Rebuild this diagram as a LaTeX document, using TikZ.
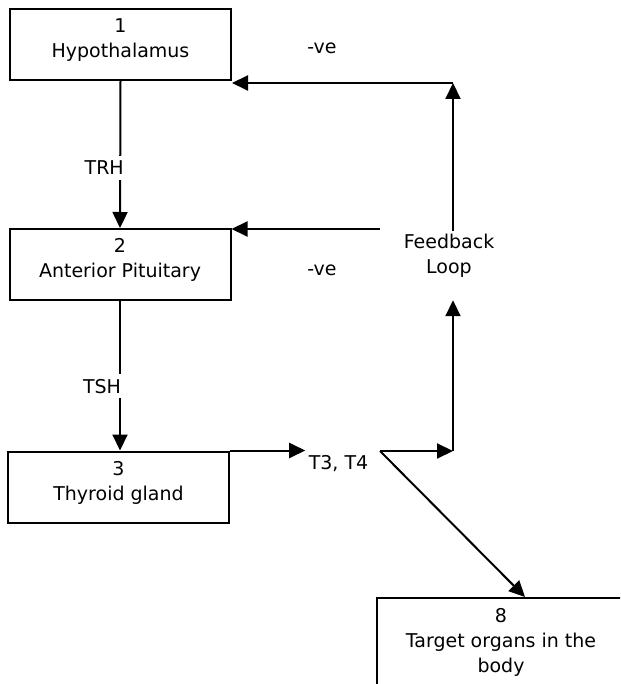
\documentclass[tikz,border=0pt]{standalone}
\usepackage{fontspec}
\setmainfont{DejaVu Sans}
\usetikzlibrary{arrows.meta,positioning}

\begin{document}
\begin{tikzpicture}[
	x=1pt,y=-1pt,
	gland/.style={
		draw,
		rectangle,
		line width=2pt,
		minimum width=221pt,
		minimum height=71pt,
		align=center,
		text depth=13pt,
		inner sep=0pt
	},
	hormone/.style={
		fill=white,
		inner sep=5pt
	},
	flow/.style={
		line width=2pt,
		-{Triangle[length=16pt,width=15pt]}
	},
	font=\fontsize{19}{25}\selectfont
	]
	\useasboundingbox (0,0) rectangle (620,684);
	\clip (0,0) rectangle (620,684);
	
	\node[gland] (hyp) at (120.5,44.5) {1\\Hypothalamus};
	\node[gland] (ant) at (120,264.5) {2\\Anterior Pituitary};
	\node[gland] (thy) at (118.5,487) {3\\Thyroid gland};
	\node[gland,minimum width=248pt,minimum height=92pt,text depth=6.5pt] (org) at (501,644) 
	{8\\Target organs in the\\body};
	
	\node (t34) at (338.5,464) {T3, T4};
	\node[align=center] (fb) at (449,256) {Feedback\\Loop};
	\node (neg1) at (322,48) {-ve};
	\node (neg2) at (322,270) {-ve};
	
	\coordinate (top) at (453,83);
	\coordinate (mid) at (380,229);
	\coordinate (split) at (380,451);
	\coordinate (turn) at (453,451);
	
	\draw[flow] (hyp.south) -- node[hormone,pos=.59,xshift=-16pt] (trh) {TRH} (ant.north);
	\draw[flow] (ant.south) -- node[hormone,pos=.57,xshift=-18pt] (tsh) {TSH} (ant.south |- thy.north);
	\draw[flow] (thy.north east) -- (thy.north east -| t34.west);
	\draw[flow] (split) -- (turn);
	\draw[flow,shorten >=19pt] (turn) -- (turn |- fb.south);
	\draw[flow] (top |- fb.north) -- (top);
	\draw[flow] (top) -- (top -| hyp.east);
	\draw[flow] (mid) -- (mid -| ant.east);
	\draw[flow] (split) -- ([xshift=24pt]org.north);
\end{tikzpicture}
\end{document}
